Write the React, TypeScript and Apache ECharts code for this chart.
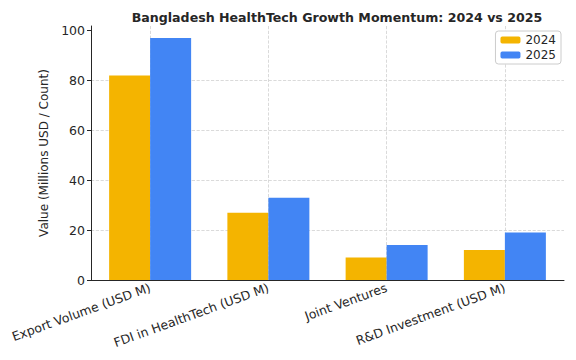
import React, { useEffect, useRef } from "react";
import * as echarts from "echarts";

const categories = [
  "Export Volume (USD M)",
  "FDI in HealthTech (USD M)",
  "Joint Ventures",
  "R&D Investment (USD M)",
];
const values2024 = [82, 27, 9, 12];
const values2025 = [97, 33, 14, 19];
const yTicks = [0, 20, 40, 60, 80, 100];

const FONT = "DejaVu Sans";

export default function App() {
  const ref = useRef<HTMLDivElement>(null);
  useEffect(() => {
    if (!ref.current) return;
    const chart = echarts.init(ref.current, null, { renderer: "svg" });
    chart.setOption({
      animation: false,
      textStyle: { fontFamily: FONT },
      title: {
        text: "Bangladesh HealthTech Growth Momentum: 2024 vs 2025",
        left: 332,
        textAlign: "center",
        top: 6,
        textStyle: { fontFamily: FONT, fontSize: 12.6, fontWeight: "bold", color: "#262626" },
      },
      legend: {
        data: ["2024", "2025"],
        orient: "vertical",
        right: 15,
        top: 31,
        itemWidth: 20,
        itemHeight: 7,
        itemGap: 1,
        padding: [2, 5, 2, 5],
        borderColor: "#cccccc",
        borderWidth: 1,
        borderRadius: 3,
        backgroundColor: "#ffffff",
        textStyle: { fontFamily: FONT, fontSize: 12, color: "#262626", lineHeight: 14 },
      },
      grid: { left: 91, right: 12, top: 26, bottom: 80 },
      xAxis: {
        type: "category",
        data: categories,
        axisLine: { lineStyle: { color: "#262626", width: 1 } },
        axisTick: { alignWithLabel: true, length: 4, lineStyle: { color: "#262626" } },
        axisLabel: {
          rotate: 20,
          fontSize: 12.5,
          color: "#262626",
          margin: 7,
          fontFamily: FONT,
        },
        splitLine: {
          show: true,
          alignWithLabel: true,
          lineStyle: { type: "dashed", color: "#d0d0d0", width: 0.8 },
        },
      },
      yAxis: {
        type: "value",
        min: 0,
        max: 101.85,
        interval: 20,
        name: "Value (Millions USD / Count)",
        nameLocation: "middle",
        nameGap: 33,
        nameTextStyle: { fontFamily: FONT, fontSize: 12, color: "#262626" },
        axisLine: { show: true, lineStyle: { color: "#262626", width: 1 } },
        axisTick: { show: true, length: 4, customValues: yTicks, lineStyle: { color: "#262626" } },
        axisLabel: {
          customValues: yTicks,
          fontSize: 12.5,
          color: "#262626",
          margin: 6,
          fontFamily: FONT,
        },
        splitLine: {
          show: true,
          showMaxLine: false,
          lineStyle: { type: "dashed", color: "#d0d0d0", width: 0.8 },
        },
      },
      series: [
        {
          name: "2024",
          type: "bar",
          data: values2024,
          barWidth: 41,
          barGap: "0%",
          itemStyle: { color: "#F4B400" },
        },
        {
          name: "2025",
          type: "bar",
          data: values2025,
          barWidth: 41,
          barGap: "0%",
          itemStyle: { color: "#4285F4" },
        },
      ],
    });
    return () => chart.dispose();
  }, []);
  return <div ref={ref} style={{ width: 576, height: 360, margin: -8 }} />;
}
